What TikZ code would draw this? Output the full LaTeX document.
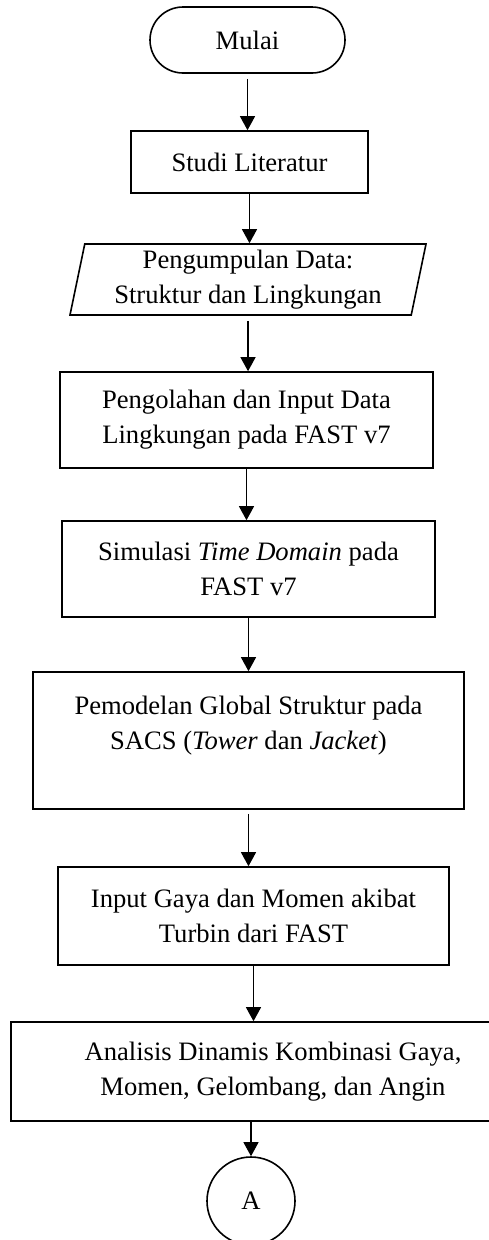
\documentclass[tikz,border=0pt]{standalone}
\usepackage{fontspec}
\setmainfont{Liberation Serif}
\usetikzlibrary{%
  arrows.meta,%
  shapes.misc,% wg. rounded rectangle
  shapes.geometric,% wg. trapezium
  positioning%
}

\begin{document}
\begin{tikzpicture}[
  x=1pt, y=-1pt,
  font=\fontsize{26.6pt}{35pt}\selectfont,
  >={Triangle[length=14pt,width=15pt]},
  line width=1.2pt,
  terminal/.style={rounded rectangle, draw=black, line width=1.6pt, minimum width=195pt, minimum height=66pt, inner sep=0pt},
  prosesbox/.style={rectangle, draw=black, line width=1.6pt, align=center, inner sep=0pt},
  databox/.style={trapezium, trapezium left angle=76, trapezium right angle=104, trapezium stretches body, draw=black, line width=1.6pt, align=center, inner sep=0pt, minimum width=356pt, minimum height=71pt},
  konektor/.style={circle, draw=black, line width=1.6pt, minimum size=88pt, inner sep=0pt},
  alur/.style={->, line width=1.2pt}
]

\useasboundingbox (0,0) rectangle (489,1240);

\node[terminal] (mulai) at (247.5,40) {Mulai};
\node[prosesbox, minimum width=237pt, minimum height=62pt] (studi) at (249.5,162) {Studi Literatur};
\node[databox] (data) at (248,279.5) {Pengumpulan Data:\\Struktur dan Lingkungan};
\node[prosesbox, minimum width=373pt, minimum height=96pt] (olah) at (246.5,420) {Pengolahan dan Input Data\\Lingkungan pada FAST v7};
\node[prosesbox, minimum width=373pt, minimum height=96pt] (simulasi) at (248.5,569) {Simulasi \textit{Time Domain} pada\\FAST v7};
\node[prosesbox, minimum width=431pt, minimum height=137pt] (model) at (248.5,740.5) {Pemodelan Global Struktur pada\\SACS (\textit{Tower} dan \textit{Jacket})\\\mbox{}};
\node[prosesbox, minimum width=391pt, minimum height=98pt] (gaya) at (253.5,916) {Input Gaya dan Momen akibat\\Turbin dari FAST};
\node[prosesbox, minimum width=524pt, minimum height=99pt] (analisis) at (273,1071.5) {Analisis Dinamis Kombinasi Gaya,\\Momen, Gelombang, dan Angin};
\node[konektor] (a) at (251,1201) {A};

\draw[alur, shorten <=5pt] (mulai.south) -- (mulai.south |- studi.north);
\draw[alur] (studi.south) -- (studi.south |- data.north);
\draw[alur, shorten <=5pt] (data.south) -- (data.south |- olah.north);
\draw[alur] (olah.south) -- (olah.south |- simulasi.north);
\draw[alur] (simulasi.south) -- (simulasi.south |- model.north);
\draw[alur, shorten <=4pt] (model.south) -- (model.south |- gaya.north);
\draw[alur] (gaya.south) -- (gaya.south |- analisis.north);
\draw[alur] (a.north |- analisis.south) -- (a.north);

\end{tikzpicture}
\end{document}
